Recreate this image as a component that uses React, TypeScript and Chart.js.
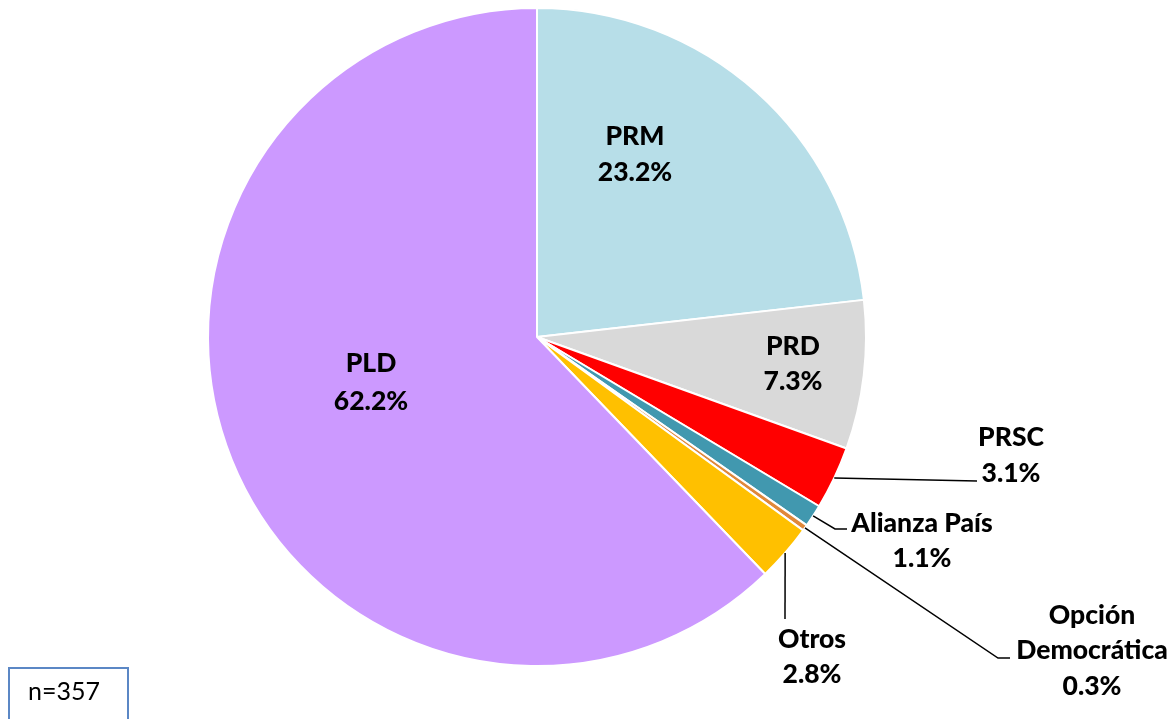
import React, { useEffect, useRef } from "react";
import { Chart, registerables } from "chart.js";

Chart.register(...registerables);

const categories = ["PRM", "PRD", "PRSC", "Alianza País", "Opción Democrática", "Otros", "PLD"];
const values = [23.2, 7.3, 3.1, 1.1, 0.3, 2.8, 62.2];
const colors = ["#B7DEE8", "#D9D9D9", "#FF0000", "#4198AF", "#E0883A", "#FFC000", "#CC99FF"];
const sampleNote = "n=357";

// label layout: lines (name split) + baseline positions, and leader line end points
const labelLines: string[][] = [
  ["PRM"],
  ["PRD"],
  ["PRSC"],
  ["Alianza País"],
  ["Opción", "Democrática"],
  ["Otros"],
  ["PLD"],
];
const labelPos: { x: number; y: number[] }[] = [
  { x: 635, y: [145, 181] },
  { x: 793, y: [355, 390] },
  { x: 1011, y: [446, 482] },
  { x: 922, y: [532, 567] },
  { x: 1092, y: [624, 659, 695] },
  { x: 812, y: [648, 683] },
  { x: 371, y: [372, 410] },
];
const leaders: ([number, number][] | null)[] = [
  null,
  null,
  [[977, 481]],
  [[835, 529], [847, 529]],
  [[998, 658], [1010, 658]],
  [[785, 619]],
  null,
];

const labelPlugin = {
  id: "pieLabels",
  afterDraw(chart: any) {
    const ctx = chart.ctx;
    const meta = chart.getDatasetMeta(0);
    ctx.save();
    meta.data.forEach((arc: any, i: number) => {
      const lead = leaders[i];
      if (lead) {
        const mid = (arc.startAngle + arc.endAngle) / 2;
        const sx = arc.x + Math.cos(mid) * arc.outerRadius;
        const sy = arc.y + Math.sin(mid) * arc.outerRadius;
        ctx.beginPath();
        ctx.strokeStyle = "#000";
        ctx.lineWidth = 1.5;
        ctx.moveTo(sx, sy);
        lead.forEach((p) => ctx.lineTo(p[0], p[1]));
        ctx.stroke();
      }
      const lines = [...labelLines[i], values[i].toFixed(1) + "%"];
      ctx.fillStyle = "#000";
      ctx.font = "900 26.5px Lato";
      ctx.textAlign = "center";
      ctx.textBaseline = "alphabetic";
      lines.forEach((t, k) => ctx.fillText(t, labelPos[i].x, labelPos[i].y[k]));
    });
    ctx.restore();
  },
};

export default function App() {
  const ref = useRef<HTMLCanvasElement>(null);
  useEffect(() => {
    if (!ref.current) return;
    const chart = new Chart(ref.current, {
      type: "pie",
      data: {
        labels: categories,
        datasets: [
          {
            data: values,
            backgroundColor: colors,
            borderColor: "#FFFFFF",
            borderWidth: 2,
          },
        ],
      },
      options: {
        responsive: false,
        animation: false,
        layout: { padding: { left: 207, right: 307, top: 7, bottom: 52 } },
        plugins: { legend: { display: false }, tooltip: { enabled: false } },
      },
      plugins: [labelPlugin],
    });
    return () => chart.destroy();
  }, []);
  return (
    <div style={{ position: "fixed", left: 0, top: 0, width: 1174, height: 719, background: "#fff", overflow: "hidden" }}>
      <canvas ref={ref} width={1174} height={719} style={{ position: "absolute", left: 0, top: 0 }} />
      <div
        style={{
          position: "absolute",
          left: 8,
          top: 667,
          width: 121,
          height: 70,
          border: "2px solid #5B87C5",
          boxSizing: "border-box",
          fontFamily: "Lato",
          fontSize: 25,
          color: "#000",
          paddingLeft: 18,
          paddingTop: 9,
          lineHeight: "25px",
        }}
      >
        {sampleNote}
      </div>
    </div>
  );
}
